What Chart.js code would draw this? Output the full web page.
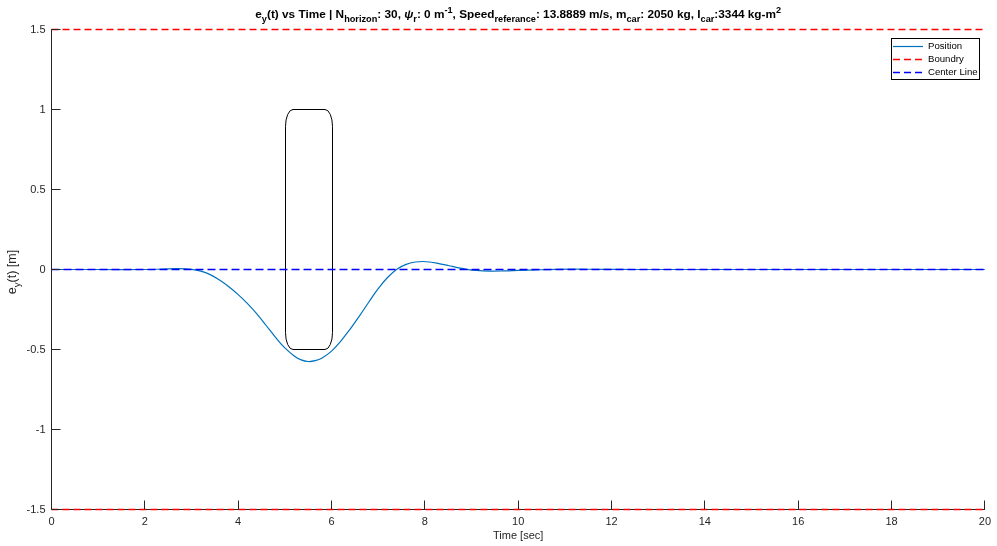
<!DOCTYPE html>
<html lang="en">
  <head>
    <meta charset="UTF-8" />
    <title>e_y(t) vs Time</title>
    <script src="https://cdn.jsdelivr.net/npm/chart.js"></script>
    <style>
      body { margin: 0; background: #fff; }
      #wrap { width: 997px; height: 546px; }
    </style>
  </head>
  <body>
    <div id="wrap"><canvas id="myChart"></canvas></div>
    <script>
      // lateral error of the car over time
      const timeSec = [0, 1, 2, 2.4, 2.7, 3.0, 3.2, 3.4, 3.6, 3.8, 4.0, 4.2, 4.4, 4.6, 4.8, 5.0, 5.2,
        5.35, 5.5, 5.65, 5.8, 6.0, 6.2, 6.4, 6.6, 6.8, 7.0, 7.2, 7.4, 7.6, 7.8, 7.95, 8.1, 8.3, 8.5,
        8.7, 8.9, 9.1, 9.4, 9.7, 10.0, 10.4, 10.8, 11.2, 11.8, 12.5, 20];
      const positionEy = [0, 0, 0, 0.003, 0.005, 0.001, -0.01, -0.032, -0.066, -0.108, -0.157, -0.213,
        -0.277, -0.35, -0.424, -0.49, -0.54, -0.565, -0.575, -0.57, -0.553, -0.51, -0.447, -0.372,
        -0.29, -0.203, -0.12, -0.05, 0.002, 0.032, 0.047, 0.05, 0.047, 0.037, 0.025, 0.012, 0.001,
        -0.006, -0.01, -0.009, -0.006, -0.002, 0.001, 0.002, 0.001, 0, 0];
      const timeRange = [0, 20];
      const boundryUpper = [1.5, 1.5];
      const boundryLower = [-1.5, -1.5];
      const centerLine = [0, 0];
      // obstacle car: x from 5 to 6 sec, y from -0.5 to 1 m
      const obstacleX = [5, 6];
      const obstacleY = [-0.5, 1];
      const xTicks = [0, 2, 4, 6, 8, 10, 12, 14, 16, 18, 20];
      const yTicks = [-1.5, -1, -0.5, 0, 0.5, 1, 1.5];

      const FONT = '"Liberation Sans", Arial, sans-serif';
      const AXIS = "#262626";

      const pts = (xs, ys) => xs.map((x, i) => ({ x: x, y: ys[i] }));

      function drawRich(ctx, segs, size, weight, x, y, align) {
        const sub = size * 0.78;
        const measure = s => {
          const fs = s.m === "n" ? size : sub;
          ctx.font = (s.i ? "italic " : "") + weight + " " + fs + "px " + FONT;
          return ctx.measureText(s.t).width;
        };
        let total = 0;
        segs.forEach(s => { total += measure(s); });
        let cx = align === "center" ? x - total / 2 : x;
        ctx.textAlign = "left";
        ctx.textBaseline = "alphabetic";
        segs.forEach(s => {
          const w = measure(s);
          const dy = s.m === "sub" ? size * 0.3 : s.m === "sup" ? -size * 0.45 : 0;
          ctx.fillText(s.t, cx, y + dy);
          cx += w;
        });
      }

      const matlabPlugin = {
        id: "matlab",
        beforeDatasetsDraw(chart) {
          const { ctx, scales: { x, y } } = chart;
          // obstacle rounded rectangle
          const l = Math.round(x.getPixelForValue(obstacleX[0])) + 0.5;
          const r = Math.round(x.getPixelForValue(obstacleX[1])) + 0.5;
          const t = y.getPixelForValue(obstacleY[1]);
          const b = y.getPixelForValue(obstacleY[0]);
          const rx = 7.5, ry = 17;
          ctx.save();
          ctx.beginPath();
          ctx.moveTo(l + rx, t);
          ctx.lineTo(r - rx, t);
          ctx.ellipse(r - rx, t + ry, rx, ry, 0, -Math.PI / 2, 0);
          ctx.lineTo(r, b - ry);
          ctx.ellipse(r - rx, b - ry, rx, ry, 0, 0, Math.PI / 2);
          ctx.lineTo(l + rx, b);
          ctx.ellipse(l + rx, b - ry, rx, ry, 0, Math.PI / 2, Math.PI);
          ctx.lineTo(l, t + ry);
          ctx.ellipse(l + rx, t + ry, rx, ry, 0, Math.PI, Math.PI * 1.5);
          ctx.closePath();
          ctx.strokeStyle = "#000";
          ctx.lineWidth = 1;
          ctx.stroke();
          ctx.restore();
        },
        afterDraw(chart) {
          const { ctx, chartArea: ca, scales: { x, y } } = chart;
          ctx.save();
          // inward ticks
          ctx.strokeStyle = AXIS;
          ctx.lineWidth = 1;
          ctx.beginPath();
          xTicks.forEach(v => {
            const px = Math.round(x.getPixelForValue(v) - 0.5) + 0.5;
            ctx.moveTo(px, ca.bottom);
            ctx.lineTo(px, ca.bottom - 9);
          });
          yTicks.forEach(v => {
            const py = y.getPixelForValue(v);
            ctx.moveTo(ca.left, py);
            ctx.lineTo(ca.left + 9, py);
          });
          ctx.stroke();

          // title
          ctx.fillStyle = "#000";
          drawRich(ctx, [
            { t: "e", m: "n" }, { t: "y", m: "sub" }, { t: "(t) vs Time | N", m: "n" },
            { t: "horizon", m: "sub" }, { t: ": 30, ", m: "n" }, { t: "ψ", m: "n", i: true },
            { t: "r", m: "sub" }, { t: ": 0 m", m: "n" }, { t: "-1", m: "sup" },
            { t: ", Speed", m: "n" }, { t: "referance", m: "sub" },
            { t: ": 13.8889 m/s, m", m: "n" }, { t: "car", m: "sub" },
            { t: ": 2050 kg, I", m: "n" }, { t: "car", m: "sub" },
            { t: ":3344 kg-m", m: "n" }, { t: "2", m: "sup" }
          ], 11.8, "bold", (ca.left + ca.right) / 2, 18, "center");

          // y axis label
          ctx.fillStyle = AXIS;
          ctx.translate(16, 272);
          ctx.rotate(-Math.PI / 2);
          drawRich(ctx, [
            { t: "e", m: "n" }, { t: "y", m: "sub" }, { t: "(t) [m]", m: "n" }
          ], 12.5, "normal", 0, 0, "center");
          ctx.setTransform(1, 0, 0, 1, 0, 0);

          // legend
          const bx = 891, by = 38, bw = 88, bh = 41;
          ctx.fillStyle = "#fff";
          ctx.fillRect(bx, by, bw, bh);
          ctx.strokeStyle = "#000";
          ctx.lineWidth = 1;
          ctx.strokeRect(bx + 0.5, by + 0.5, bw, bh);
          const rows = [
            { label: "Position", color: "#0072BD", dash: [], w: 1.2 },
            { label: "Boundry", color: "#FF0000", dash: [7, 4], w: 1.4 },
            { label: "Center Line", color: "#0000FF", dash: [7, 4], w: 1.4 },
          ];
          ctx.font = "9.6px " + FONT;
          ctx.textBaseline = "middle";
          ctx.textAlign = "left";
          rows.forEach((row, i) => {
            const ry = by + 7.7 + i * 13.3;
            ctx.strokeStyle = row.color;
            ctx.lineWidth = row.w;
            ctx.setLineDash(row.dash);
            ctx.beginPath();
            ctx.moveTo(893, Math.round(ry) + 0.5);
            ctx.lineTo(923, Math.round(ry) + 0.5);
            ctx.stroke();
            ctx.setLineDash([]);
            ctx.fillStyle = "#000";
            ctx.fillText(row.label, 928, ry + 0.5);
          });
          ctx.restore();
        }
      };

      new Chart(document.getElementById("myChart"), {
        type: "line",
        data: {
          datasets: [
            {
              label: "Position",
              data: pts(timeSec, positionEy),
              borderColor: "#0072BD",
              borderWidth: 1.2,
              pointRadius: 0,
              tension: 0.4,
              order: 1,
            },
            {
              label: "Boundry",
              data: pts(timeRange, boundryUpper),
              borderColor: "#FF0000",
              borderWidth: 1.4,
              borderDash: [7, 4],
              pointRadius: 0,
              clip: 4,
              order: 2,
            },
            {
              label: "Boundry",
              data: pts(timeRange, boundryLower),
              borderColor: "#FF0000",
              borderWidth: 1.4,
              borderDash: [7, 4],
              pointRadius: 0,
              clip: 4,
              order: 2,
            },
            {
              label: "Center Line",
              data: pts(timeRange, centerLine),
              borderColor: "#0000FF",
              borderWidth: 1.4,
              borderDash: [8, 4],
              pointRadius: 0,
              order: 0,
            },
          ],
        },
        options: {
          responsive: true,
          maintainAspectRatio: false,
          animation: false,
          layout: { padding: { left: 0, right: 9, top: 29.5, bottom: 0 } },
          plugins: {
            legend: { display: false },
            tooltip: { enabled: false },
            title: { display: false },
          },
          scales: {
            x: {
              type: "linear",
              min: timeRange[0],
              max: timeRange[1],
              afterBuildTicks: s => { s.ticks = xTicks.map(v => ({ value: v })); },
              afterFit: s => { s.height = 36.5; },
              grid: { display: false, drawTicks: false },
              border: { display: true, color: AXIS, width: 1 },
              ticks: {
                color: AXIS,
                font: { family: FONT, size: 11 },
                padding: 6,
                maxRotation: 0,
                callback: v => String(v),
              },
              title: {
                display: true,
                text: "Time [sec]",
                color: AXIS,
                font: { family: FONT, size: 11 },
                padding: { top: 0, bottom: 3 },
              },
            },
            y: {
              type: "linear",
              min: -1.5,
              max: 1.5,
              afterBuildTicks: s => { s.ticks = yTicks.map(v => ({ value: v })); },
              afterFit: s => { s.width = 51.5; },
              grid: { display: false, drawTicks: false },
              border: { display: true, color: AXIS, width: 1 },
              ticks: {
                color: AXIS,
                font: { family: FONT, size: 11 },
                padding: 6,
                callback: v => String(v),
              },
            },
          },
        },
        plugins: [matlabPlugin],
      });
    </script>
  </body>
</html>
